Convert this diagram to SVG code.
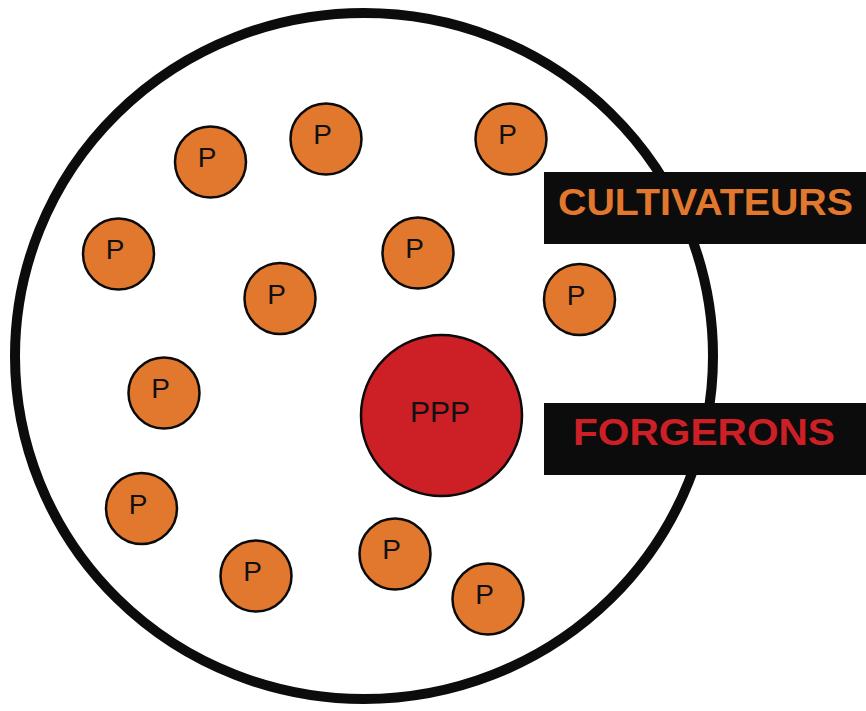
<svg xmlns="http://www.w3.org/2000/svg" width="866" height="711" viewBox="0 0 866 711">
<style>
.p circle{fill:#E2782E;stroke:#0b0b0b;stroke-width:2.5}
.p text{font-family:"Liberation Sans",Arial,sans-serif;font-size:28px;fill:#111;text-anchor:middle}
.box{fill:#0b0c0b}
.lbl{font-family:"Liberation Sans",Arial,sans-serif;font-weight:bold;font-size:37px}
</style>
<rect width="866" height="711" fill="#ffffff"/>
<g id="outer">
<ellipse cx="364" cy="356" rx="349" ry="343" fill="none" stroke="#0b0c0b" stroke-width="10"/>
</g>
<g id="connectors"></g>
<g id="p1" class="p"><circle cx="210.5" cy="162" r="35.5"/><text x="207" y="167">P</text></g>
<g id="p2" class="p"><circle cx="326" cy="139" r="35.5"/><text x="322.5" y="144">P</text></g>
<g id="p3" class="p"><circle cx="511" cy="139" r="35.5"/><text x="507.5" y="144">P</text></g>
<g id="p4" class="p"><circle cx="118.5" cy="254" r="35.5"/><text x="115" y="259">P</text></g>
<g id="p5" class="p"><circle cx="418" cy="253" r="35.5"/><text x="414.5" y="258">P</text></g>
<g id="p6" class="p"><circle cx="280" cy="298.5" r="35.5"/><text x="276.5" y="303.5">P</text></g>
<g id="p7" class="p"><circle cx="579.5" cy="299.5" r="35.5"/><text x="576" y="304.5">P</text></g>
<g id="p8" class="p"><circle cx="164" cy="393" r="35.5"/><text x="160.5" y="398">P</text></g>
<g id="p9" class="p"><circle cx="141.5" cy="508.5" r="35.5"/><text x="138" y="513.5">P</text></g>
<g id="p10" class="p"><circle cx="256" cy="576" r="35.5"/><text x="252.5" y="581">P</text></g>
<g id="p11" class="p"><circle cx="395" cy="554" r="35.5"/><text x="391.5" y="559">P</text></g>
<g id="p12" class="p"><circle cx="488" cy="599" r="35.5"/><text x="484.5" y="604">P</text></g>
<g id="ppp">
<circle cx="441.5" cy="415.5" r="80.5" fill="#CC2026" stroke="#0b0b0b" stroke-width="2.5"/>
<text x="440" y="422" font-family="'Liberation Sans',Arial,sans-serif" font-size="30" fill="#111" text-anchor="middle">PPP</text>
</g>
<g id="cultivateurs">
<rect class="box" x="544" y="172" width="322" height="72"/>
<text class="lbl" x="558" y="215" fill="#E2782E" textLength="295" lengthAdjust="spacingAndGlyphs">CULTIVATEURS</text>
</g>
<g id="forgerons">
<rect class="box" x="544" y="403" width="322" height="72"/>
<text class="lbl" x="573" y="445" fill="#CC2026" textLength="262" lengthAdjust="spacingAndGlyphs">FORGERONS</text>
</g>
</svg>
